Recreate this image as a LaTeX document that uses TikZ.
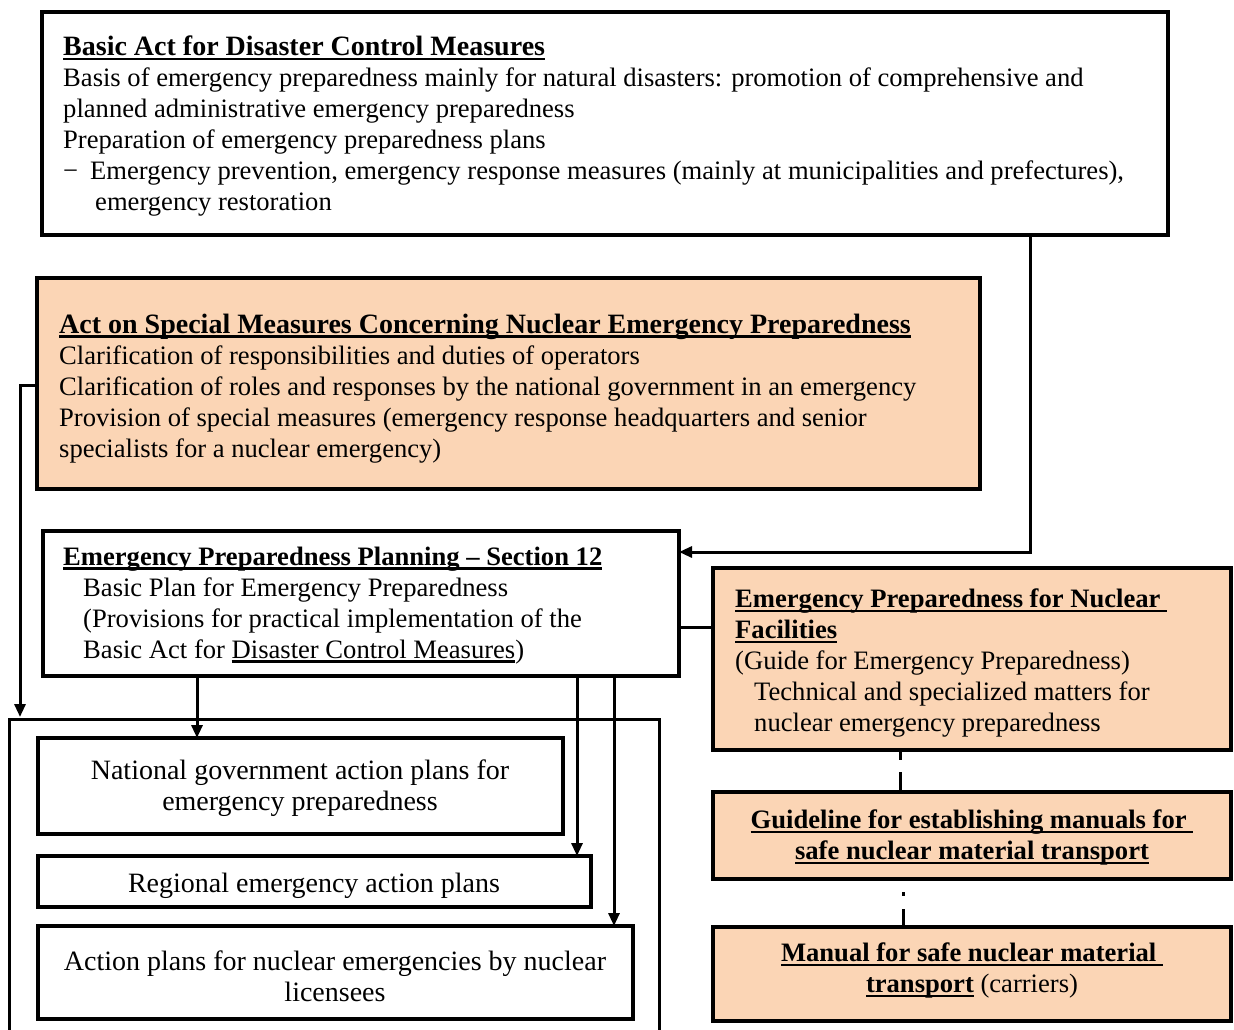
\documentclass[tikz,border=0pt]{standalone}
\usepackage{fontspec}
\setmainfont{Liberation Serif}
\usetikzlibrary{arrows.meta}
\definecolor{peach}{HTML}{FBD5B5}
\newcommand\myul[1]{\setbox0\hbox{#1}\rlap{\rule[-4.5pt]{\wd0}{2.4pt}}\box0}
\newcommand\bigtitle[1]{{\fontsize{28}{31}\selectfont\bfseries\myul{#1}}}
\begin{document}
\begin{tikzpicture}[x=1pt,y=-1pt,
  box/.style={draw=black, line width=4pt, anchor=north west, inner sep=0pt, outer sep=0pt},
  wbox/.style={box, fill=white},
  obox/.style={box, fill=peach, line width=4.5pt},
  txt/.style={anchor=north west, inner sep=0pt, align=left, font=\fontsize{26.6}{31}\selectfont},
  ctxt/.style={anchor=center, inner sep=0pt, align=center, font=\fontsize{26.6}{31}\selectfont},
  ptxt/.style={anchor=center, inner sep=0pt, align=center, font=\fontsize{28}{31}\selectfont},
  conn/.style={line width=3pt},
  arr/.style={conn, -{Triangle[length=13pt,width=11pt]}}
]
\useasboundingbox (0,0) rectangle (1234,1030);

% boxes
\node[wbox, minimum width=1126pt, minimum height=223pt] (basic) at (42,12) {};
\node[obox, minimum width=943pt, minimum height=211pt] (act) at (37,278) {};
\node[wbox, minimum width=636pt, minimum height=145pt] (epp) at (43,531) {};
\node[wbox, minimum width=525pt, minimum height=96pt] (nat) at (38,738) {};
\node[wbox, minimum width=553pt, minimum height=51pt] (reg) at (38,856) {};
\node[wbox, minimum width=595pt, minimum height=93pt] (lic) at (38,926) {};
\node[obox, minimum width=518pt, minimum height=182pt] (epnf) at (713,568) {};
\node[obox, minimum width=518pt, minimum height=87pt] (guide) at (713,792) {};
\node[obox, minimum width=518pt, minimum height=94pt] (manual) at (713,927) {};

% big open frame
\draw[line width=3pt] (9,1036) -- (9,719) -- (659,719) -- (659,1036);
\coordinate (bigtop) at (20,717);

% texts
\node[txt] (basictxt) at (63,36) {\bigtitle{Basic Act for Disaster Control Measures}\\
Basis of emergency preparedness mainly for natural disasters: promotion of comprehensive and\\
planned administrative emergency preparedness\\
Preparation of emergency preparedness plans\\
\makebox[27pt][l]{−}Emergency prevention, emergency response measures (mainly at municipalities and prefectures),\\
\hspace*{32pt}emergency restoration};

\node[txt] (acttxt) at (59,313.5) {\bigtitle{Act on Special Measures Concerning Nuclear Emergency Preparedness}\\
Clarification of responsibilities and duties of operators\\
Clarification of roles and responses by the national government in an emergency\\
Provision of special measures (emergency response headquarters and senior\\
specialists for a nuclear emergency)};

\node[txt] (epptxt) at (63,546.5) {\textbf{\myul{Emergency Preparedness Planning – Section 12}}\\
\hspace*{20pt}Basic Plan for Emergency Preparedness\\
\hspace*{20pt}(Provisions for practical implementation of the\\
\hspace*{20pt}Basic Act for \myul{Disaster Control Measures})};

\node[txt] (epnftxt) at (735,589) {\textbf{\myul{Emergency Preparedness for Nuclear\ }}\\
\textbf{\myul{Facilities}}\\
(Guide for Emergency Preparedness)\\
\hspace*{19pt}Technical and specialized matters for\\
\hspace*{19pt}nuclear emergency preparedness};

\node[ctxt] (guidetxt) at (972,837.5) {\textbf{\myul{Guideline for establishing manuals for\ }}\\
\textbf{\myul{safe nuclear material transport}}};

\node[ctxt] (manualtxt) at (972,970.5) {\textbf{\myul{Manual for safe nuclear material\ }}\\
\textbf{\myul{transport}} (carriers)};

\node[ptxt] (nattxt) at (300,788) {National government action plans for\\ emergency preparedness};
\node[ptxt] (regtxt) at (314,886) {Regional emergency action plans};
\node[ptxt] (lictxt) at (335,976) {Action plans for nuclear emergencies by nuclear\\ licensees};

% connectors
\coordinate (k1) at (1030,552);
\draw[arr] (basic.south -| k1) -- (k1) -- (epp.east |- k1);

\coordinate (k2) at (20,385);
\draw[arr] (act.west |- k2) -- (k2) -- (bigtop);

\coordinate (a1) at (197,0);
\coordinate (a2) at (577,0);
\coordinate (a3) at (614,0);
\draw[arr] (epp.south -| a1) -- (nat.north -| a1);
\draw[arr] (epp.south -| a2) -- (reg.north -| a2);
\draw[arr] (epp.south -| a3) -- (lic.north -| a3);

\coordinate (k3) at (0,627);
\draw[conn] (epp.east |- k3) -- (epnf.west |- k3);

\coordinate (d1) at (900,0);
\coordinate (d2) at (903,0);
\draw[line width=3pt, dash pattern=on 10pt off 12pt on 20pt] (epnf.south -| d1) -- (guide.north -| d1);
\draw[line width=3pt, dash pattern=on 0pt off 13pt on 4pt off 13pt on 20pt] (guide.south -| d2) -- (manual.north -| d2);
\end{tikzpicture}
\end{document}
